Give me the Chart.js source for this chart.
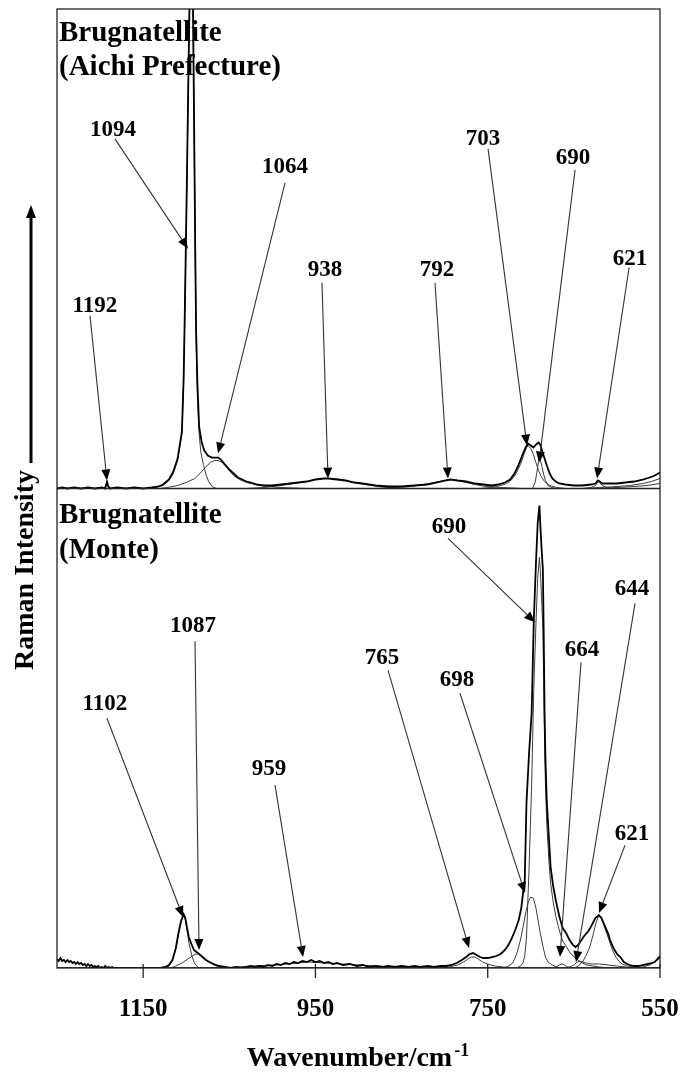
<!DOCTYPE html>
<html><head><meta charset="utf-8">
<script src="https://cdn.jsdelivr.net/npm/chart.js@4.4.1/dist/chart.umd.min.js"></script>
<style>html,body{margin:0;padding:0;background:#fff}canvas{display:block}</style>
</head><body>
<canvas id="c" width="684" height="1074"></canvas>
<script>
// ---------- DATA (wavenumber cm-1, intensity a.u.) ----------
const tickValues = [1150, 950, 750, 550];

const topObserved = [[1250,0],[1244,1],[1238,0],[1230,1],[1222,0],[1214,1],[1206,0],[1198,1],[1194,0],[1193,4],[1192,8],[1191,3],[1189,0],[1180,1],[1170,0],[1160,1],[1150,0],[1140,1],[1132,2],[1127,4],[1120,9],[1115,17],[1110,30],[1105,57],[1103,110],[1102,158],[1100.5,238],[1099,320],[1097,440],[1095.5,520],[1094,700],[1092.5,520],[1091,380],[1089.5,238],[1088.5,158],[1087,105],[1085,62],[1082,46],[1079,38],[1075,33],[1070,31],[1066,31],[1063,31],[1060,29],[1055,24],[1050,19],[1045,15],[1040,11],[1035,9],[1030,7],[1025,6],[1018,4],[1010,3],[1000,3],[990,4],[980,5],[970,6],[960,7],[950,9],[940,10],[935,10],[925,9],[915,8],[905,6],[895,5],[880,3],[865,2],[850,2],[835,3],[820,4],[810,6],[800,8],[793,9],[785,8],[775,7],[765,5],[755,4],[745,3],[738,4],[730,6],[724,9],[719,15],[714,24],[710,33],[706,41],[703,45],[700,43],[697,41],[694,44],[691,46],[689,44],[687,38],[684,30],[681,22],[678,15],[675,10],[671,7],[667,5],[660,4],[650,3],[640,3],[630,4],[625,5],[622,8],[620,7],[617,5],[610,5],[600,5],[590,6],[580,7],[570,9],[562,11],[556,13],[550,16]];
const top1192 = [[1250,0],[1196,0],[1193,3],[1192,7],[1191,3],[1188,0],[550,0]];
const top1094 = [[1250,0],[1140,0],[1127,3],[1120,8],[1115,15],[1110,28],[1105,55],[1103,108],[1102,155],[1100.5,235],[1099,318],[1097,438],[1095.5,518],[1094,690],[1092.5,515],[1091,375],[1089.5,230],[1088.5,150],[1087,92],[1085,55],[1083,36],[1080,24],[1077,14],[1074,7],[1070,2],[1065,0],[550,0]];
const top1064 = [[1250,0],[1130,0],[1122,1],[1110,3],[1100,6],[1090,10],[1084,15],[1078,21],[1072,26],[1067,28],[1063,28],[1058,26],[1052,20],[1045,13],[1038,9],[1030,6],[1020,4],[1006,2],[990,1],[960,0],[550,0]];
const top938 = [[1250,0],[1030,0],[1010,1],[990,3],[975,5],[960,7],[950,9],[940,10],[930,10],[920,9],[910,7],[900,5],[885,3],[865,1],[840,0],[550,0]];
const top792 = [[1250,0],[880,0],[860,1],[840,2],[825,4],[812,6],[800,8],[793,9],[785,8],[775,6],[765,4],[752,2],[735,1],[710,0],[550,0]];
const top703 = [[1250,0],[760,0],[745,1],[735,3],[728,5],[722,9],[717,15],[712,24],[708,34],[705,41],[703,43],[700,40],[697,34],[694,26],[691,18],[688,12],[684,7],[678,3],[670,1],[660,0],[550,0]];
const top690 = [[1250,0],[698,0],[695,6],[693,16],[691,27],[690,30],[689,29],[687,22],[685,14],[683,8],[680,3],[676,1],[670,0],[550,0]];
const top621 = [[1250,0],[640,0],[630,1],[625,3],[622,7],[620,6],[617,3],[612,1],[605,0],[550,0]];
const topTailA = [[1250,0],[640,0],[620,1],[600,2],[585,3],[570,5],[560,7],[550,10]];
const topTailB = [[1250,0],[620,0],[600,1],[580,2],[565,3],[550,5]];

const botObserved = [[1250,9],[1248,7],[1246,10],[1244,7],[1242,8],[1240,6],[1238,8],[1236,6],[1234,7],[1232,5],[1230,6],[1228,4],[1226,6],[1224,4],[1222,5],[1220,3],[1218,4],[1216,2],[1214,4],[1212,2],[1210,3],[1208,1],[1206,2],[1204,1],[1202,2],[1200,0],[1198,1],[1196,0],[1194,2],[1192,0],[1190,1],[1188,0],[1186,1],[1184,0],[1170,0],[1150,0],[1130,0],[1124,1],[1120,3],[1116,8],[1112,20],[1109,35],[1106,47],[1103,54],[1101,50],[1099,40],[1097,31],[1094,24],[1091,18],[1088,16],[1085,14],[1081,11],[1077,8],[1073,6],[1068,4],[1062,2],[1055,1],[1048,0],[1042,1],[1036,0],[1030,1],[1025,2],[1020,1],[1015,2],[1010,1],[1005,3],[1000,2],[995,4],[990,3],[985,5],[980,4],[975,6],[970,5],[965,7],[960,6],[955,8],[950,6],[945,7],[940,5],[935,6],[930,4],[925,5],[918,3],[910,4],[902,2],[895,3],[888,1],[880,2],[872,1],[865,2],[858,1],[850,2],[842,1],[835,2],[828,1],[820,2],[812,1],[805,2],[798,2],[792,3],[786,5],[780,8],[775,11],[771,14],[767,15],[763,13],[759,11],[755,10],[750,10],[745,11],[740,12],[735,14],[730,18],[726,23],[722,30],[718,38],[714,48],[711,60],[709,75],[707,88],[705,165],[702,215],[699,255],[696.5,348],[694,405],[692,445],[690,463],[689,445],[687.5,420],[686,400],[685,335],[684,255],[683,210],[681.5,168],[679,130],[677,101],[674,82],[671,68],[667,52],[663,40],[659,35],[655,28],[651,23],[648,21],[645,23],[642,27],[638,32],[634,36],[631,40],[628,45],[625,50],[621,53],[618,50],[614,42],[610,34],[608,28],[604,20],[600,14],[596,11],[592,6],[588,4],[585,3],[580,2],[575,2],[570,3],[565,4],[560,5],[556,6],[553,9],[550,12]];
const bot1102 = [[1250,0],[1125,0],[1120,2],[1116,8],[1112,20],[1109,34],[1106,46],[1103,53],[1101,48],[1099,38],[1097,26],[1094,14],[1091,6],[1088,2],[1085,0],[550,0]];
const bot1087 = [[1250,0],[1118,0],[1112,2],[1105,5],[1098,9],[1093,12],[1089,14],[1086,14],[1083,12],[1079,9],[1074,6],[1068,3],[1062,1],[1056,0],[550,0]];
const bot959 = [[1250,0],[1060,0],[1040,1],[1020,2],[1000,3],[985,4],[970,5],[960,6],[950,5.5],[935,5],[920,4],[900,3],[880,2],[860,1],[830,0],[550,0]];
const bot765 = [[1250,0],[810,0],[795,1],[785,3],[778,6],[773,9],[769,11],[765,11],[761,9],[756,6],[750,4],[742,2],[732,1],[720,0],[550,0]];
const bot698 = [[1250,0],[730,0],[724,3],[721,5],[716,15],[712,28],[709,41],[706,55],[703,66],[700,71],[697,70],[694,60],[692,50],[689,35],[686,22],[683,11],[680,6],[675,3],[670,1],[665,0],[550,0]];
const bot690 = [[1250,0],[716,0],[712,2],[709,5],[707,12],[705,30],[702,100],[699,184],[696.5,280],[694,345],[692,390],[690,411],[689,400],[687.5,370],[686,340],[685,290],[684,225],[683,185],[681.5,145],[679,108],[677,85],[674,66],[671,52],[667,38],[663,27],[659,22],[655,16],[651,12],[648,10],[644,7],[640,5],[635,3],[628,2],[620,1],[610,0],[550,0]];
const bot664 = [[1250,0],[675,0],[670,1],[667,3],[664,4],[661,3],[657,1],[652,0],[550,0]];
const bot644 = [[1250,0],[660,0],[655,1],[650,3],[646,6],[643,7],[640,6],[636,5],[630,4],[620,4],[610,3],[600,2],[590,1],[580,0],[550,0]];
const bot621 = [[1250,0],[650,0],[645,2],[640,6],[636,12],[632,20],[628,32],[625,43],[622,51],[620,52],[617,48],[614,40],[610,30],[606,20],[602,12],[598,7],[594,4],[588,2],[580,1],[570,0],[550,0]];
const botTail = [[1250,0],[580,0],[570,1],[562,3],[556,6],[550,10]];

// peak annotations: label text, label position, arrow start, arrow tip (wavenumber, axis value)
const peakLabels = ['1192','1094','1064','938','792','703','690','621','690','644','664','765','698','621','959','1102','1087'];
const labelPos = [[1205.9,664],[1185,840],[985.3,803],[938.9,700],[808.9,700],[755.4,831],[651,812],[584.8,711],[794.9,442],[582.5,380],[640.5,319],[872.7,311],[785.6,289],[582.5,135],[1003.9,200],[1194.3,265],[1092.1,343]];
const arrowFrom = [[1211.7,653],[1182.7,830],[985.3,786],[942.4,686],[811.2,686],[749.6,820],[648.6,799],[585.9,701],[796.1,430],[579,365],[641.7,306],[865.7,298],[782.2,275],[590.6,123],[996.9,183],[1192,250],[1089.8,327]];
const arrowTip = [[1192,488],[1097.9,720],[1063.1,515],[935.4,490],[796.1,490],[704.4,523],[690.4,506],[623.1,490],[695.1,346],[647.5,6],[666.1,11],[771.7,20],[706.7,75],[620.8,55],[964.4,11],[1103.7,51],[1085.1,18]];

const panelTitles = [['Brugnatellite','(Aichi Prefecture)'],['Brugnatellite','(Monte)']];

// ---------- BUILD ----------
const PANEL = 480;
const SERIF = "'Liberation Serif','Times New Roman',serif";
const series = [
  [topObserved,1,true],[top1192,1,false],[top1094,1,false],[top1064,1,false],[top938,1,false],[top792,1,false],
  [top703,1,false],[top690,1,false],[top621,1,false],[topTailA,1,false],[topTailB,1,false],
  [botObserved,0,true],[bot1102,0,false],[bot1087,0,false],[bot959,0,false],[bot765,0,false],[bot698,0,false],
  [bot690,0,false],[bot664,0,false],[bot644,0,false],[bot621,0,false],[botTail,0,false]
];
const datasets = series.map(([arr, panel, obs]) => ({
  data: arr.map(p => ({x: p[0], y: p[1] + panel * PANEL})),
  borderColor: obs ? '#000' : '#3c3c3c',
  borderWidth: obs ? 1.8 : 1,
  pointRadius: 0, tension: 0, fill: false
}));

function arrow(ctx, x1, y1, x2, y2, head, half, lw) {
  const a = Math.atan2(y2 - y1, x2 - x1);
  const bx = x2 - head * Math.cos(a), by = y2 - head * Math.sin(a);
  ctx.lineWidth = lw;
  ctx.beginPath(); ctx.moveTo(x1, y1); ctx.lineTo(bx, by); ctx.stroke();
  ctx.beginPath();
  ctx.moveTo(x2, y2);
  ctx.lineTo(bx + half * Math.sin(a), by - half * Math.cos(a));
  ctx.lineTo(bx - half * Math.sin(a), by + half * Math.cos(a));
  ctx.closePath(); ctx.fill();
}

const decor = {
  id: 'decor',
  afterDraw(chart) {
    const {ctx, chartArea: ca, scales: {x, y}} = chart;
    ctx.save();
    ctx.strokeStyle = '#222'; ctx.fillStyle = '#000';
    // frame and divider
    ctx.lineWidth = 1.3;
    ctx.strokeRect(ca.left, ca.top, ca.right - ca.left, ca.bottom - ca.top);
    const yd = y.getPixelForValue(PANEL);
    ctx.beginPath(); ctx.moveTo(ca.left, yd); ctx.lineTo(ca.right, yd); ctx.stroke();
    // tick marks
    tickValues.forEach(v => {
      const px = x.getPixelForValue(v);
      ctx.beginPath(); ctx.moveTo(px, ca.bottom - 4); ctx.lineTo(px, ca.bottom + 10); ctx.stroke();
    });
    // panel titles
    ctx.font = 'bold 29px ' + SERIF;
    ctx.textAlign = 'left'; ctx.textBaseline = 'alphabetic';
    ctx.fillText(panelTitles[0][0], ca.left + 2, ca.top + 32);
    ctx.fillText(panelTitles[0][1], ca.left + 2, ca.top + 66);
    ctx.fillText(panelTitles[1][0], ca.left + 2, yd + 34);
    ctx.fillText(panelTitles[1][1], ca.left + 2, yd + 69);
    // peak labels and arrows
    ctx.font = 'bold 23px ' + SERIF;
    ctx.textAlign = 'center'; ctx.textBaseline = 'middle';
    ctx.strokeStyle = '#333'; ctx.fillStyle = '#000';
    peakLabels.forEach((t, i) => {
      ctx.fillText(t, x.getPixelForValue(labelPos[i][0]), y.getPixelForValue(labelPos[i][1]) + 1);
      arrow(ctx, x.getPixelForValue(arrowFrom[i][0]), y.getPixelForValue(arrowFrom[i][1]),
            x.getPixelForValue(arrowTip[i][0]), y.getPixelForValue(arrowTip[i][1]), 11, 4.5, 1.1);
    });
    // y axis title with arrow
    ctx.save();
    ctx.translate(33, 570); ctx.rotate(-Math.PI / 2);
    ctx.font = 'bold 28px ' + SERIF;
    ctx.textAlign = 'center'; ctx.textBaseline = 'alphabetic';
    ctx.fillText('Raman Intensity', 0, 0);
    ctx.restore();
    ctx.strokeStyle = '#000';
    arrow(ctx, 31, 463, 31, 205, 13, 5, 3);
    // x axis title
    ctx.font = 'bold 28px ' + SERIF;
    ctx.textAlign = 'left'; ctx.textBaseline = 'alphabetic';
    const main = 'Wavenumber/cm';
    const w = ctx.measureText(main).width;
    ctx.font = 'bold 18px ' + SERIF;
    const ws = ctx.measureText('-1').width;
    const x0 = 358 - (w + ws + 2) / 2;
    ctx.font = 'bold 28px ' + SERIF;
    ctx.fillText(main, x0, 1066);
    ctx.font = 'bold 18px ' + SERIF;
    ctx.fillText('-1', x0 + w + 2, 1056);
    ctx.restore();
  }
};

new Chart(document.getElementById('c'), {
  type: 'line',
  data: {datasets},
  options: {
    responsive: false, animation: false,
    layout: {padding: {left: 57, right: 24, top: 9, bottom: 0}},
    plugins: {legend: {display: false}, tooltip: {enabled: false}},
    scales: {
      x: {
        type: 'linear', reverse: true, min: 550, max: 1250,
        afterBuildTicks: s => { s.ticks = tickValues.map(v => ({value: v})); },
        afterFit: s => { s.height = 106; s.paddingLeft = 0; s.paddingRight = 0; },
        ticks: {font: {family: SERIF, size: 25, weight: 'bold'}, color: '#000', padding: 27, maxRotation: 0, autoSkip: false, callback: v => String(v)},
        grid: {display: false, drawTicks: false},
        border: {display: false}
      },
      y: {display: false, min: 0, max: 960}
    }
  },
  plugins: [decor]
});
</script>
</body></html>
